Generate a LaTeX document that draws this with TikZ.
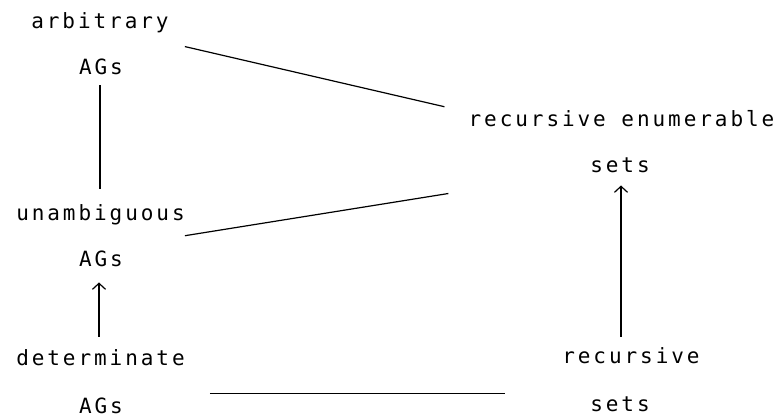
\documentclass[tikz,border=0pt]{standalone}
\usepackage{fontspec}
\newfontfamily\typew[LetterSpace=14]{DejaVu Sans Mono}
\usetikzlibrary{arrows.meta}

\begin{document}
\begin{tikzpicture}[x=1pt,y=-1pt,
  word/.style={inner sep=0pt, anchor=base, font=\typew\fontsize{21}{21}\selectfont},
  link/.style={line width=1.2pt},
  >={Straight Barb[length=6pt,width=13pt]}]
\useasboundingbox (0,0) rectangle (782,417);

% left column: attribute grammars
\node[word] (arb)      at (100,29)   {arbitrary};
\node[word] (arbags)   at (101,75)   {AGs};
\node[word] (unamb)    at (100.5,220){unambiguous};
\node[word] (unambags) at (101,266)  {AGs};
\node[word] (det)      at (100.5,365){determinate};
\node[word] (detags)   at (101,413)  {AGs};

% right column: sets
\node[word] (re)      at (621.5,127) {recursive enumerable};
\node[word] (resets)  at (620,172)   {sets};
\node[word] (rec)     at (631,363)   {recursive};
\node[word] (recsets) at (620,411)   {sets};

% inclusions
\draw[link] ([xshift=-1pt,yshift=-10pt]arbags.south) -- ([xshift=-0.5pt,yshift=15pt]unamb.north);
\draw[link,->] ([xshift=-1.5pt,yshift=12pt]det.north) -- ([xshift=-2pt,yshift=-16pt]unambags.south);
\draw[link,->] ([xshift=-10pt,yshift=10pt]rec.north) -- ([xshift=1pt,yshift=-13pt]resets.south);

% correspondences
\draw[link] ([xshift=16pt,yshift=-13pt]arb.south east) -- ([xshift=-24pt,yshift=4pt]re.north west);
\draw[link] ([xshift=0pt,yshift=-11pt]unamb.south east) -- ([xshift=-20pt,yshift=-66pt]re.south west);
\draw[link] ([xshift=25pt,yshift=-28pt]det.south east) -- ([xshift=-57pt,yshift=-30pt]rec.south west);
\end{tikzpicture}
\end{document}
